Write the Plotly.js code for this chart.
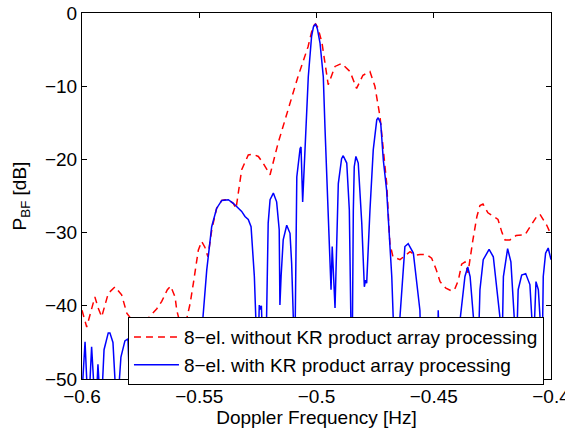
<!DOCTYPE html>
<html>
<head>
<meta charset="utf-8">
<script src="https://cdn.plot.ly/plotly-3.0.1.min.js"></script>
<style>
html,body{margin:0;padding:0;background:#fff;}
#chart{width:565px;height:428px;}
</style>
</head>
<body>
<div id="chart"></div>
<script>
// Doppler frequency [Hz] and beamformer power [dB]
const freqWithoutKR = [-0.6000,-0.5980,-0.5952,-0.5945,-0.5931,-0.5916,-0.5888,-0.5859,-0.5831,-0.5809,-0.5774,-0.5724,-0.5681,-0.5660,-0.5636,-0.5622,-0.5603,-0.5596,-0.5569,-0.5539,-0.5525,-0.5504,-0.5490,-0.5476,-0.5463,-0.5446,-0.5426,-0.5404,-0.5390,-0.5376,-0.5355,-0.5343,-0.5319,-0.5291,-0.5271,-0.5248,-0.5228,-0.5198,-0.5164,-0.5122,-0.5079,-0.5036,-0.5015,-0.5004,-0.4994,-0.4977,-0.4964,-0.4950,-0.4921,-0.4893,-0.4857,-0.4829,-0.4802,-0.4772,-0.4751,-0.4729,-0.4701,-0.4687,-0.4674,-0.4644,-0.4601,-0.4580,-0.4559,-0.4530,-0.4509,-0.4490,-0.4473,-0.4448,-0.4422,-0.4409,-0.4395,-0.4381,-0.4367,-0.4354,-0.4333,-0.4316,-0.4303,-0.4290,-0.4269,-0.4243,-0.4226,-0.4209,-0.4196,-0.4175,-0.4149,-0.4111,-0.4085,-0.4061,-0.4047,-0.4034,-0.4018,-0.4000];
const powerWithoutKR = [-40.6,-42.9,-39.6,-38.8,-40.3,-41.5,-38.3,-37.4,-38.5,-41.0,-42.5,-41.9,-40.4,-39.4,-37.8,-37.3,-38.8,-40.6,-44.0,-39.7,-36.9,-32.4,-31.2,-32.0,-33.3,-29.5,-26.7,-25.6,-25.5,-25.5,-26.0,-26.7,-21.4,-19.4,-19.3,-19.6,-20.5,-22.1,-17.8,-13.3,-8.7,-4.6,-1.8,-1.5,-2.0,-4.0,-6.8,-9.8,-7.3,-6.9,-8.0,-10.3,-8.5,-8.0,-10.0,-14.2,-23.2,-31.5,-33.3,-33.7,-32.6,-33.1,-33.0,-33.0,-33.5,-35.0,-36.7,-37.6,-38.0,-37.6,-36.5,-34.3,-34.0,-35.5,-31.0,-27.8,-26.3,-26.1,-27.3,-27.8,-28.2,-30.0,-31.0,-31.0,-30.4,-30.3,-29.0,-27.8,-27.5,-28.2,-29.0,-30.3];

const freqWithKR = [-0.6000,-0.5987,-0.5973,-0.5959,-0.5942,-0.5932,-0.5919,-0.5906,-0.5888,-0.5881,-0.5868,-0.5851,-0.5834,-0.5817,-0.5804,-0.5793,-0.5772,-0.5748,-0.5725,-0.5702,-0.5672,-0.5642,-0.5612,-0.5582,-0.5539,-0.5497,-0.5484,-0.5468,-0.5447,-0.5426,-0.5404,-0.5390,-0.5376,-0.5355,-0.5340,-0.5319,-0.5305,-0.5291,-0.5279,-0.5274,-0.5265,-0.5259,-0.5254,-0.5244,-0.5239,-0.5235,-0.5226,-0.5220,-0.5206,-0.5198,-0.5184,-0.5170,-0.5159,-0.5156,-0.5151,-0.5142,-0.5127,-0.5113,-0.5106,-0.5099,-0.5094,-0.5084,-0.5070,-0.5066,-0.5059,-0.5049,-0.5035,-0.5021,-0.5013,-0.5004,-0.4996,-0.4985,-0.4971,-0.4964,-0.4950,-0.4942,-0.4938,-0.4933,-0.4928,-0.4921,-0.4907,-0.4893,-0.4886,-0.4871,-0.4860,-0.4853,-0.4849,-0.4843,-0.4839,-0.4832,-0.4822,-0.4807,-0.4796,-0.4791,-0.4786,-0.4772,-0.4758,-0.4743,-0.4737,-0.4726,-0.4715,-0.4701,-0.4690,-0.4679,-0.4673,-0.4657,-0.4644,-0.4623,-0.4609,-0.4587,-0.4559,-0.4550,-0.4529,-0.4512,-0.4499,-0.4486,-0.4481,-0.4469,-0.4456,-0.4439,-0.4422,-0.4409,-0.4397,-0.4388,-0.4367,-0.4355,-0.4345,-0.4331,-0.4318,-0.4303,-0.4289,-0.4264,-0.4246,-0.4232,-0.4218,-0.4211,-0.4203,-0.4185,-0.4171,-0.4157,-0.4149,-0.4140,-0.4125,-0.4108,-0.4090,-0.4082,-0.4075,-0.4064,-0.4054,-0.4047,-0.4041,-0.4033,-0.4023,-0.4012,-0.4004,-0.4000];
const powerWithKR = [-52,-44.9,-55,-45.6,-55,-48,-55,-46,-43.7,-43.7,-45,-55,-47,-44.8,-44.5,-55,-44,-55,-44,-55,-43.5,-55,-44,-55,-45,-55,-41.5,-35.1,-29.2,-26.7,-25.6,-25.5,-25.5,-26.0,-26.5,-27.1,-27.8,-28.2,-29.2,-31.5,-36.0,-41.5,-52,-39.9,-40.5,-40.0,-55,-55,-28.7,-25.5,-24.6,-25.8,-29.6,-39.9,-36.0,-31.0,-29.0,-30.1,-34.2,-41.5,-52,-22.4,-18.5,-18.3,-25.8,-18.7,-8.7,-3.2,-1.9,-1.5,-2.2,-4.1,-8.7,-15.5,-26.9,-35.1,-37.8,-31.9,-36.0,-40.3,-23.3,-19.9,-19.5,-20.5,-26.9,-40.0,-52,-27.0,-21.0,-19.6,-20.5,-28.7,-37.4,-36.5,-36.9,-26.9,-18.7,-14.6,-14.3,-15.1,-20.1,-24.2,-29.6,-36.0,-41.5,-55,-41.5,-31.9,-31.5,-32.8,-40.6,-52,-45,-55,-45,-55,-40.6,-52,-55,-46,-55,-46,-55,-42,-36.0,-34.7,-36.0,-41.5,-55,-37.8,-33.7,-32.3,-33.3,-37.8,-41.5,-50,-36.0,-32.2,-34.0,-41.5,-48,-37.8,-35.8,-35.6,-37.1,-41.5,-46,-36.7,-37.8,-41.5,-55,-36.0,-32.8,-32.1,-33.0,-33.7];

const seriesNames = ["8\u2212el. without KR product array processing", "8\u2212el. with KR product array processing"];
const xTickVals = [-0.6,-0.55,-0.5,-0.45,-0.4];
const xTickText = ["\u22120.6","\u22120.55","\u22120.5","\u22120.45","\u22120.4"];
const yTickVals = [0,-10,-20,-30,-40,-50];
const yTickText = ["0","\u221210","\u221220","\u221230","\u221240","\u221250"];

const traces = [
  {x: freqWithoutKR, y: powerWithoutKR, type: 'scatter', mode: 'lines', name: seriesNames[0],
   line: {color: '#ff0000', width: 1.5, dash: '7px,5px'}},
  {x: freqWithKR, y: powerWithKR, type: 'scatter', mode: 'lines', name: seriesNames[1],
   line: {color: '#0000ff', width: 1.5}}
];

const font = 'Liberation Sans, Arial, sans-serif';
const fs = 19;
const axisCommon = {
  showgrid: false, zeroline: false, showline: true, linecolor: '#000', linewidth: 1,
  mirror: 'ticks', ticks: 'inside', ticklen: 5, tickcolor: '#000', tickwidth: 1,
  tickfont: {family: font, size: fs, color: '#000'}, ticklabeloverflow: 'allow'
};

const layout = {
  width: 565, height: 428,
  margin: {l: 82, r: 14, t: 13, b: 49},
  paper_bgcolor: '#fff', plot_bgcolor: '#fff',
  showlegend: true,
  xaxis: Object.assign({}, axisCommon, {
    range: [-0.6000001, -0.3999999], tickvals: xTickVals, ticktext: xTickText,
    ticklabelstandoff: 0,
    title: {text: 'Doppler Frequency [Hz]', font: {family: font, size: fs, color: '#000'}, standoff: 0}
  }),
  yaxis: Object.assign({}, axisCommon, {
    range: [-50.00001, 0.00001], tickvals: yTickVals, ticktext: yTickText,
    title: {text: 'P<sub>BF</sub> [dB]', font: {family: font, size: fs, color: '#000'}, standoff: 13}
  }),
  legend: {
    x: 0.098, y: 0.169, xanchor: 'left', yanchor: 'top',
    bgcolor: '#fff', bordercolor: '#000', borderwidth: 1,
    font: {family: font, size: fs, color: '#000'},
    itemwidth: 45, tracegroupgap: 0
  }
};

Plotly.newPlot('chart', traces, layout, {displayModeBar: false, staticPlot: true});
</script>
</body>
</html>
